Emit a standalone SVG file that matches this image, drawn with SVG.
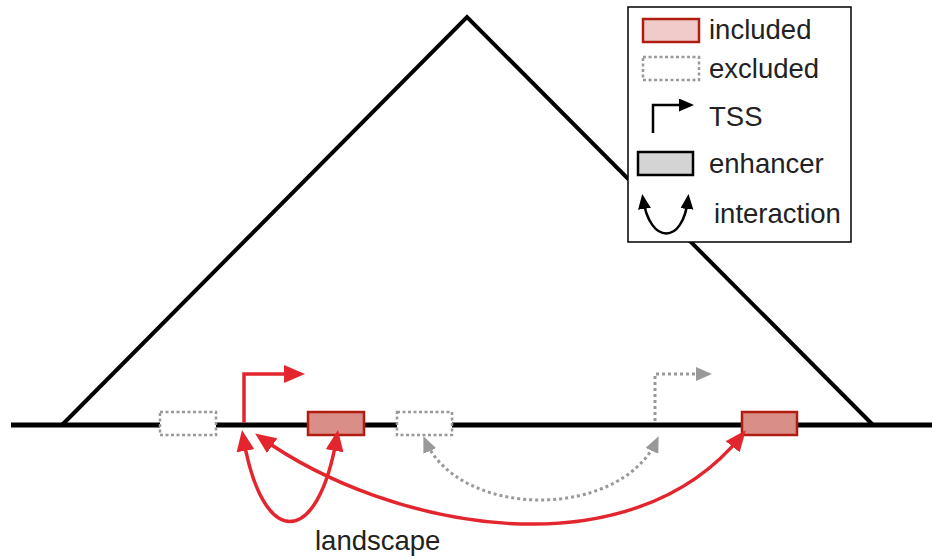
<svg xmlns="http://www.w3.org/2000/svg" width="932" height="559" viewBox="0 0 932 559">
  <style>
    .label { font-family: "Liberation Sans", Arial, sans-serif; font-size: 27.5px; fill: #222; }
    .axis { stroke: #000; stroke-width: 5; fill: none; }
    .tad { stroke: #000; stroke-width: 4; fill: none; stroke-linejoin: miter; }
    .incl { fill: #d98f87; stroke: #b01d10; stroke-width: 2.5; }
    .incl-key { fill: #f0cbc9; stroke: #b01d10; stroke-width: 2.5; }
    .excl { fill: #fff; stroke: #999; stroke-width: 2.5; stroke-dasharray: 3 2.5; }
    .enh { fill: #d4d4d4; stroke: #000; stroke-width: 2.5; }
    .red { stroke: #e3262e; stroke-width: 3.5; fill: none; }
    .grey { stroke: #999; stroke-width: 3; fill: none; stroke-dasharray: 3 3; }
    .blk { stroke: #000; stroke-width: 2.5; fill: none; }
  </style>
  <defs>
    <marker id="ah-red" markerUnits="userSpaceOnUse" markerWidth="22" markerHeight="18" refX="15" refY="9" orient="auto-start-reverse" viewBox="0 0 22 18">
      <path d="M0,0 L21,9 L0,18 z" fill="#e3262e"/>
    </marker>
    <marker id="ah-grey" markerUnits="userSpaceOnUse" markerWidth="18" markerHeight="16" refX="12" refY="7" orient="auto-start-reverse" viewBox="0 0 18 16">
      <path d="M0,0 L16,7 L0,14 z" fill="#999"/>
    </marker>
    <marker id="ah-blk" markerUnits="userSpaceOnUse" markerWidth="16" markerHeight="14" refX="10" refY="6.5" orient="auto-start-reverse" viewBox="0 0 16 14">
      <path d="M0,0 L15,6.5 L0,13 z" fill="#000"/>
    </marker>
  </defs>

  <rect width="932" height="559" fill="#fff"/>

  <!-- domain triangle and chromosome axis -->
  <g id="tad">
    <polyline class="tad" points="62,425 467,17 873,425"/>
  </g>
  <g id="axis">
    <line class="axis" x1="11" y1="425" x2="932" y2="425"/>
  </g>

  <!-- elements on the axis -->
  <g id="excluded-1"><rect class="excl" x="160" y="412" width="56" height="23"/></g>
  <g id="tss-main">
    <polyline class="red" points="244,423 244,374 299,374" marker-end="url(#ah-red)"/>
  </g>
  <g id="included-1"><rect class="incl" x="308" y="412" width="56" height="23"/></g>
  <g id="excluded-2"><rect class="excl" x="397" y="412" width="55" height="23"/></g>
  <g id="tss-excluded">
    <polyline class="grey" points="655,421 655,374 708,374" marker-end="url(#ah-grey)"/>
  </g>
  <g id="included-2"><rect class="incl" x="742" y="412" width="55" height="23"/></g>

  <!-- interactions -->
  <g id="connectors">
    <path class="red" d="M243,436 C262,550 318,550 337,436" marker-start="url(#ah-red)" marker-end="url(#ah-red)"/>
    <path class="red" d="M260,437 C390,530 630,575 742,435" marker-start="url(#ah-red)" marker-end="url(#ah-red)"/>
    <path class="grey" d="M425,440 C460,520 620,520 657,440" marker-start="url(#ah-grey)" marker-end="url(#ah-grey)"/>
  </g>

  <g id="landscape-label">
    <text class="label" x="315" y="550">landscape</text>
  </g>

  <!-- key -->
  <g id="legend">
    <rect x="628" y="7" width="223" height="235" fill="#fff" stroke="#000" stroke-width="1.5"/>
    <rect class="incl-key" x="643" y="19" width="56" height="23"/>
    <text class="label" x="709" y="39">included</text>
    <rect class="excl" x="643" y="57" width="56" height="23"/>
    <text class="label" x="709" y="78">excluded</text>
    <polyline class="blk" points="653,133 653,105 689,105" marker-end="url(#ah-blk)"/>
    <text class="label" x="709" y="126">TSS</text>
    <rect class="enh" x="638" y="152" width="55" height="23"/>
    <text class="label" x="709" y="173">enhancer</text>
    <path class="blk" d="M643,199 C650,245 683,245 688,199" marker-start="url(#ah-blk)" marker-end="url(#ah-blk)"/>
    <text class="label" x="714" y="223">interaction</text>
  </g>
</svg>
